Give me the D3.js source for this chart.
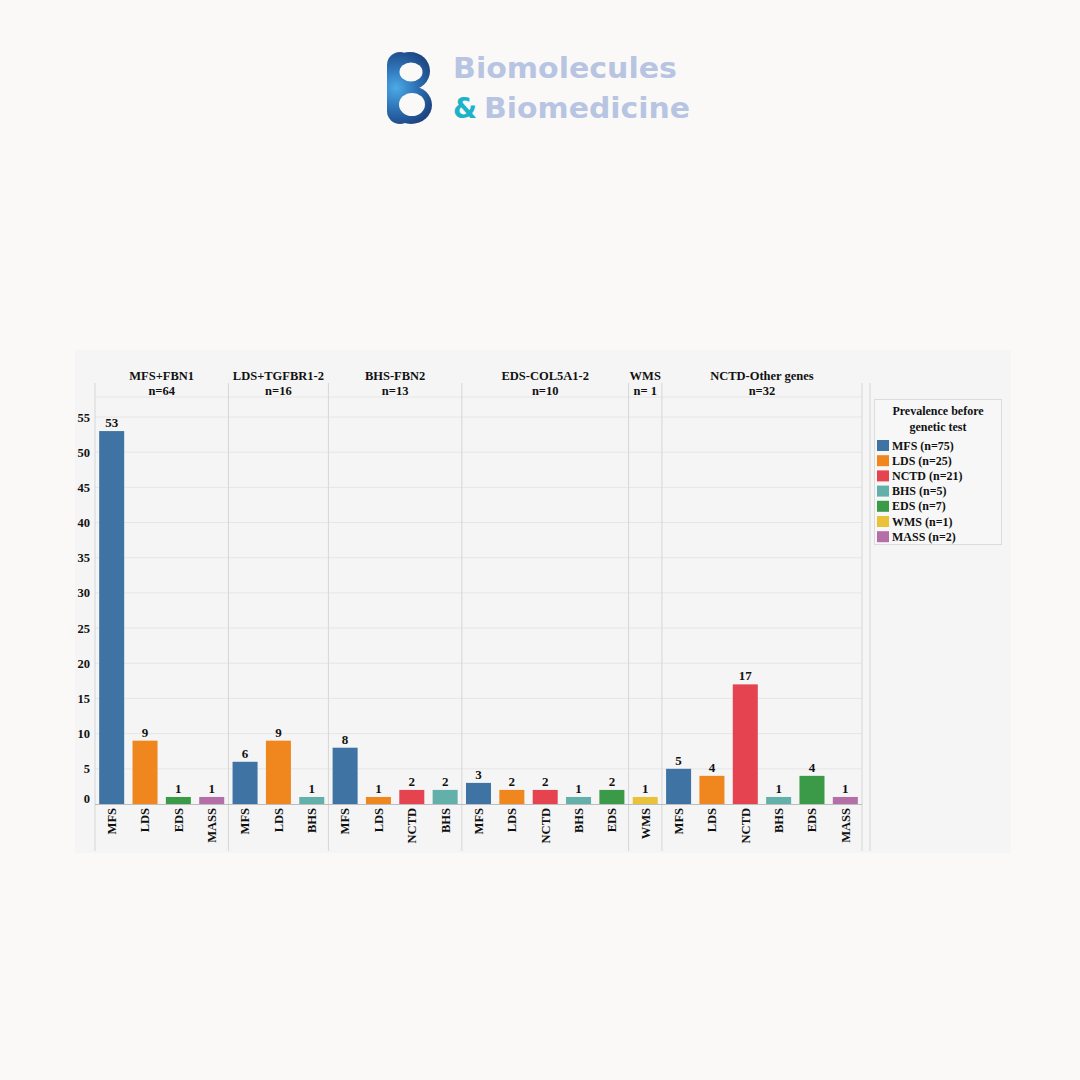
<!DOCTYPE html>
<html>
<head>
<meta charset="utf-8">
<title>Prevalence before genetic test</title>
<style>
body { margin: 0; background: #faf9f8; }
svg { display: block; }
.serif { font-family: "Liberation Serif", "DejaVu Serif", serif; font-weight: bold; fill: #111; }
.grid line { stroke: #e6e6e6; }
.sep { stroke: #d6d6d6; stroke-width: 1; }
.logo-text { font-family: "DejaVu Sans", Lato, sans-serif; font-weight: bold; }
</style>
</head>
<body>
<svg id="chart" width="1080" height="1080"></svg>
<script src="https://cdn.jsdelivr.net/npm/d3@7"></script>
<script>
// group headers
var groups = ["MFS+FBN1", "LDS+TGFBR1-2", "BHS-FBN2", "EDS-COL5A1-2", "WMS", "NCTD-Other genes"];
var groupN = ["n=64", "n=16", "n=13", "n=10", "n= 1", "n=32"];
// bars inside each group
var groupBars = [
  ["MFS", "LDS", "EDS", "MASS"],
  ["MFS", "LDS", "BHS"],
  ["MFS", "LDS", "NCTD", "BHS"],
  ["MFS", "LDS", "NCTD", "BHS", "EDS"],
  ["WMS"],
  ["MFS", "LDS", "NCTD", "BHS", "EDS", "MASS"]
];
var groupValues = [
  [53, 9, 1, 1],
  [6, 9, 1],
  [8, 1, 2, 2],
  [3, 2, 2, 1, 2],
  [1],
  [5, 4, 17, 1, 4, 1]
];
var categories = ["MFS", "LDS", "NCTD", "BHS", "EDS", "WMS", "MASS"];
var categoryN = [75, 25, 21, 5, 7, 1, 2];
var categoryColors = ["#3f73a4", "#f0861e", "#e5434f", "#62b0a9", "#3b9a47", "#eac23a", "#b46ea8"];
var yTicks = [0, 5, 10, 15, 20, 25, 30, 35, 40, 45, 50, 55];

var svg = d3.select("#chart");

// ---- logo ----
var defs = svg.append("defs");
var grad = defs.append("radialGradient").attr("id", "logoGrad")
  .attr("gradientUnits", "userSpaceOnUse")
  .attr("cx", 396).attr("cy", 88).attr("r", 44);
grad.append("stop").attr("offset", "0%").attr("stop-color", "#4cabe6");
grad.append("stop").attr("offset", "45%").attr("stop-color", "#2f74b8");
grad.append("stop").attr("offset", "100%").attr("stop-color", "#1a3d78");

var logo = svg.append("g");
logo.append("rect").attr("x", 387).attr("y", 52).attr("width", 26).attr("height", 72)
  .attr("rx", 13).attr("fill", "url(#logoGrad)");
logo.append("ellipse").attr("cx", 410).attr("cy", 71).attr("rx", 20).attr("ry", 19)
  .attr("fill", "url(#logoGrad)");
logo.append("ellipse").attr("cx", 411).attr("cy", 105).attr("rx", 21).attr("ry", 19)
  .attr("fill", "url(#logoGrad)");
logo.append("ellipse").attr("cx", 411).attr("cy", 72).attr("rx", 11.5).attr("ry", 9.5)
  .attr("fill", "#faf9f8");
logo.append("ellipse").attr("cx", 412).attr("cy", 104.5).attr("rx", 13).attr("ry", 11.5)
  .attr("fill", "#faf9f8");

// logo words
svg.append("text").attr("class", "logo-text").attr("x", 453).attr("y", 78)
  .attr("font-size", 29).attr("fill", "#b7c5e3")
  .attr("textLength", 224).attr("lengthAdjust", "spacingAndGlyphs").text("Biomolecules");
svg.append("text").attr("class", "logo-text").attr("x", 453).attr("y", 118)
  .attr("font-size", 29).attr("fill", "#1cb2c9")
  .attr("textLength", 24).attr("lengthAdjust", "spacingAndGlyphs").text("&");
svg.append("text").attr("class", "logo-text").attr("x", 484).attr("y", 118)
  .attr("font-size", 29).attr("fill", "#b7c5e3")
  .attr("textLength", 206).attr("lengthAdjust", "spacingAndGlyphs").text("Biomedicine");

// ---- chart panel ----
svg.append("rect").attr("x", 75).attr("y", 350).attr("width", 936).attr("height", 503)
  .attr("fill", "#f5f5f5");

var flat = [];
groupBars.forEach(function (bars, gi) {
  bars.forEach(function (b, bi) {
    flat.push({ id: gi + "-" + bi, group: gi, cat: b, value: groupValues[gi][bi] });
  });
});

var x = d3.scaleBand().domain(flat.map(function (d) { return d.id; }))
  .range([95, 862]).paddingInner(0.25).paddingOuter(0.125);
var y = d3.scaleLinear().domain([0, 55]).range([804, 417]);
var color = d3.scaleOrdinal().domain(categories).range(categoryColors);

// grid
var grid = svg.append("g").attr("class", "grid");
grid.selectAll("line").data(yTicks.slice(1)).join("line")
  .attr("x1", 95).attr("x2", 862)
  .attr("y1", function (d) { return y(d); }).attr("y2", function (d) { return y(d); });
grid.append("line").attr("x1", 95).attr("x2", 862).attr("y1", 397).attr("y2", 397);

// group separators
var bounds = [0];
groupBars.forEach(function (b, i) { bounds.push(bounds[i] + b.length); });
var sepX = bounds.map(function (c) { return 95 + x.step() * c; });
svg.append("g").selectAll("line").data(sepX).join("line")
  .attr("class", "sep")
  .attr("x1", function (d) { return d; }).attr("x2", function (d) { return d; })
  .attr("y1", 383).attr("y2", 851);
svg.append("line").attr("class", "sep").attr("x1", 870).attr("x2", 870).attr("y1", 383).attr("y2", 851);

// group headers
var hdr = svg.append("g").attr("class", "serif").attr("font-size", 12.5).attr("text-anchor", "middle");
groups.forEach(function (g, i) {
  var cx = (sepX[i] + sepX[i + 1]) / 2;
  hdr.append("text").attr("x", cx).attr("y", 380).text(g);
  hdr.append("text").attr("x", cx).attr("y", 395).text(groupN[i]);
});

// y axis
var yAxis = svg.append("g").attr("transform", "translate(90,0)")
  .call(d3.axisLeft(y).tickValues(yTicks).tickSize(0).tickPadding(0));
yAxis.select(".domain").remove();
yAxis.selectAll("text").attr("class", "serif").attr("font-size", 12.5)
  .attr("dy", function (d) { return d === 0 ? "-0.15em" : "0.32em"; });

// bars
svg.append("g").selectAll("rect").data(flat).join("rect")
  .attr("x", function (d) { return x(d.id); })
  .attr("width", x.bandwidth())
  .attr("y", function (d) { return y(d.value); })
  .attr("height", function (d) { return y(0) - y(d.value); })
  .attr("fill", function (d) { return color(d.cat); });

// value labels
svg.append("g").attr("class", "serif").attr("font-size", 13).attr("text-anchor", "middle")
  .selectAll("text").data(flat).join("text")
  .attr("x", function (d) { return x(d.id) + x.bandwidth() / 2; })
  .attr("y", function (d) { return y(d.value) - 4; })
  .text(function (d) { return d.value; });

// baseline
svg.append("line").attr("x1", 95).attr("x2", 862).attr("y1", 804.5).attr("y2", 804.5)
  .attr("stroke", "#bdbdbd");

// x labels (rotated)
var xAxis = svg.append("g").attr("transform", "translate(0,804)")
  .call(d3.axisBottom(x).tickSize(0).tickFormat(function (id) {
    return flat.find(function (d) { return d.id === id; }).cat;
  }));
xAxis.select(".domain").remove();
xAxis.selectAll("text").attr("class", "serif").attr("font-size", 12.5)
  .attr("text-anchor", "end").attr("transform", "rotate(-90)")
  .attr("x", -4).attr("y", 0).attr("dy", "0.35em");

// legend
var lg = svg.append("g");
lg.append("rect").attr("x", 874.5).attr("y", 399.5).attr("width", 127).attr("height", 145)
  .attr("fill", "#f7f7f7").attr("stroke", "#dcdcdc");
lg.append("text").attr("class", "serif").attr("font-size", 12).attr("text-anchor", "middle")
  .attr("x", 938).attr("y", 415).text("Prevalence before");
lg.append("text").attr("class", "serif").attr("font-size", 12).attr("text-anchor", "middle")
  .attr("x", 938).attr("y", 431).text("genetic test");
var items = lg.selectAll("g.item").data(categories).join("g").attr("class", "item")
  .attr("transform", function (d, i) { return "translate(877," + (440 + i * 15.2) + ")"; });
items.append("rect").attr("width", 12).attr("height", 11)
  .attr("fill", function (d) { return color(d); });
items.append("text").attr("class", "serif").attr("font-size", 12)
  .attr("x", 15).attr("y", 9.5)
  .text(function (d, i) { return d + " (n=" + categoryN[i] + ")"; });
</script>
</body>
</html>
